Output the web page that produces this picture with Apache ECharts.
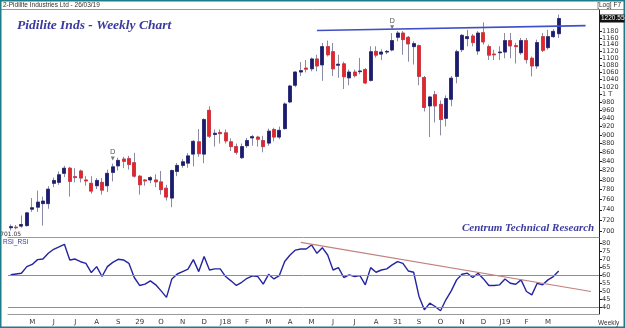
<!DOCTYPE html>
<html><head><meta charset="utf-8">
<script src="https://cdn.jsdelivr.net/npm/echarts@6/dist/echarts.min.js"></script>
<style>html,body{margin:0;padding:0;background:#fff}#c{width:625px;height:328px}</style>
</head><body><div id="c"></div>
<script>
// ---- data (weekly candles, Apr 2017 - Mar 2019) ----
const opens  = [706,707,709,710,741,745,752,752,793,795,814,825,807,819,800,793,788,795,788,816,830,845,846,837,808,800,800,800,796,783,763,818,831,836,856,884,856,960,901,906,905,884,873,848,875,893,895,887,881,913,895,915,981,1025,1061,1072,1070,1098,1081,1134,1119,1080,1084,1045,1061,1062,1068,1038,1120,1112,1118,1124,1162,1175,1162,1134,1137,1046,971,1000,975,940,988,1049,1125,1158,1166,1121,1176,1134,1112,1116,1118,1152,1137,1116,1152,1100,1078,1164,1131,1164,1173];
const closes = [708,706,712,734,744,755,757,781,799,811,825,797,805,804,798,777,799,779,814,828,842,840,833,808,790,798,805,796,780,765,820,831,839,852,885,857,937,897,904,903,886,873,860,873,887,896,890,873,909,895,911,976,1023,1061,1065,1069,1098,1078,1134,1110,1070,1083,1048,1061,1051,1064,1031,1119,1109,1118,1120,1152,1175,1155,1142,1143,1049,967,994,971,937,990,1044,1119,1168,1164,1146,1175,1148,1109,1110,1118,1152,1136,1134,1152,1096,1078,1146,1123,1164,1180,1220.55];
const highs  = [712,711,729,736,763,778,766,787,805,818,830,828,825,822,808,808,804,804,822,835,848,850,852,859,810,802,808,812,819,790,822,836,845,858,888,914,940,970,913,913,913,892,880,880,893,900,898,898,915,917,920,980,1026,1063,1089,1095,1102,1110,1145,1152,1145,1110,1090,1068,1068,1101,1072,1135,1135,1126,1124,1175,1181,1181,1166,1150,1140,1050,997,1010,985,998,1050,1125,1172,1185,1172,1181,1208,1140,1125,1135,1175,1175,1145,1160,1160,1105,1155,1175,1185,1187,1233];
const lows   = [701,703,706,708,736,736,710,742,785,790,806,766,795,795,788,772,781,770,775,797,820,825,822,805,770,788,793,785,770,758,745,808,826,826,829,850,836,893,873,880,880,863,855,845,870,875,873,860,875,885,890,913,978,1020,1050,1060,1063,1063,1037,1105,1050,1045,1015,1025,1046,1055,1028,1035,1102,1095,1112,1120,1150,1110,1090,1082,1025,957,895,930,899,920,970,1030,1118,1135,1135,1110,1140,1095,1095,1095,1100,1100,1085,1110,1085,1049,1070,1118,1125,1160,1160];
const rsi    = [60.5,61,61.5,65.6,67,70,70.4,74,76.5,78,79.6,69.8,70.4,68.7,67.7,61.9,65.6,59.4,65.6,68.3,70.2,69.8,67.7,58.8,53.8,54.6,56.7,54.2,50.4,46.3,57.9,61,62.5,64,70,62.5,72,63.5,64.2,64.2,59.4,56.7,53.8,55.8,58.3,59.8,59.4,54.6,60.8,57.9,60,68.8,72.9,76,76.7,76.7,79.2,74,77.5,72.9,63.5,65,58.8,60.4,59.4,60,54.2,65,62.1,63.5,64.2,66.7,68.8,67.7,62.9,62.1,46.9,38.5,42.7,40.6,37.9,44.8,50.4,57.3,60.8,61.5,58.8,61.5,57.9,53.8,53.8,54.2,57.9,55.2,54.6,57.3,50,47.9,55.2,54.2,57.3,59.4,62.9];
const monthLabels = ['M','J','J','A','S','29','O','N','D','J18','F','M','A','M','J','J','A','31','S','O','N','D','J19','F','M'];
const monthIdx    = [4,8,12,16,20,24,28,32,36,40,44,48,52,56,60,64,68,72,76,80,84,88,92,96,100];
const priceTicks  = [700,720,740,760,780,800,820,840,860,880,900,920,940,960,980,1000,1020,1040,1060,1080,1100,1120,1140,1160,1180,1200];
const rsiTicks    = [40,45,50,55,60,65,70,75,80];
const dMarks      = [[19,846],[71,1193]];
const resistance  = [[57,1183],[107,1198]];
const rsiTrend    = [[54,80.8],[108,50]];
const lastPrice   = 1220.55;
const lowPrice    = 701.05;
const N_SLOTS = 110;

const cats = Array.from({length:N_SLOTS},(_,i)=>String(i));
const labelMap = {}; monthIdx.forEach((k,j)=>{labelMap[k]=monthLabels[j];});
const wickData = opens.map((o,i)=>[o,closes[i],lows[i],highs[i]]);
const bodyData = opens.map((o,i)=>[o,closes[i],Math.min(o,closes[i]),Math.max(o,closes[i])]);

const NAVY='#1b1b6f', RED='#e3262b', WICK='#8a8aa4';
const axFont = {fontSize:6.5,color:'#333',fontFamily:'DejaVu Sans'};
const chart = echarts.init(document.getElementById('c'),null,{renderer:'canvas'});
chart.setOption({
  animation:false,
  backgroundColor:'#fff',
  title:[
    {text:'2-Pidilite Industries Ltd - 26/03/19',left:3,top:1.5,padding:0,textStyle:{fontSize:6.5,fontWeight:'normal',color:'#333',fontFamily:'Liberation Sans'}},
    {text:'[Log] F7',right:4,top:1.5,padding:0,textStyle:{fontSize:6.5,fontWeight:'normal',color:'#333',fontFamily:'Liberation Sans'}},
    {text:'Pidilite Inds - Weekly Chart',left:17,top:19,padding:0,textStyle:{fontSize:13.5,fontStyle:'italic',fontWeight:'bold',color:'#3b3b9e',fontFamily:'Liberation Serif'}},
    {text:'Centrum Technical Research',left:462,top:223,padding:0,textStyle:{fontSize:11,fontStyle:'italic',fontWeight:'bold',color:'#3b3b9e',fontFamily:'Liberation Serif'}},
    {text:'RSI_RSI',left:3,top:238.5,padding:0,textStyle:{fontSize:6.5,fontWeight:'normal',color:'#3a3aa0',fontFamily:'Liberation Sans'}},
    {text:'Weekly',left:598,top:319.5,padding:0,textStyle:{fontSize:6.5,fontWeight:'normal',color:'#333',fontFamily:'Liberation Sans'}}
  ],
  graphic:[
    {type:'line',shape:{x1:0,y1:9.5,x2:625,y2:9.5},style:{stroke:'#9a9a9a',lineWidth:1},silent:true},
    {type:'rect',shape:{x:0.75,y:0.75,width:623.5,height:326.5},style:{fill:'none',stroke:'#1f7d8a',lineWidth:1.5},silent:true}
  ],
  grid:[
    {left:8,right:26,top:10,height:227},
    {left:8,right:26,top:237,height:77}
  ],
  xAxis:[
    {type:'category',gridIndex:0,data:cats,boundaryGap:true,
     axisLine:{onZero:false,lineStyle:{color:'#9a9a9a'}},axisTick:{show:false},axisLabel:{show:false},splitLine:{show:false}},
    {type:'category',gridIndex:1,data:cats,boundaryGap:true,
     axisLine:{onZero:false,lineStyle:{color:'#9a9a9a'}},axisTick:{show:false},
     axisLabel:Object.assign({interval:(i)=>labelMap[i]!==undefined,formatter:(v,i)=>labelMap[i]||'',margin:5},axFont,{fontSize:7}),
     splitLine:{show:false}}
  ],
  yAxis:[
    {type:'log',gridIndex:0,position:'right',min:689.1,max:1248,
     axisLine:{show:true,lineStyle:{color:'#222'}},
     axisTick:{show:true,length:3,customValues:priceTicks,lineStyle:{color:'#222'}},
     axisLabel:Object.assign({customValues:priceTicks,margin:3,formatter:(v)=>{const r=Math.round(v);return r===1000?'1 T':String(r);}},axFont),
     splitLine:{show:false}},
    {type:'value',gridIndex:1,position:'right',min:35.9,max:84.2,
     axisLine:{show:true,lineStyle:{color:'#222'}},
     axisTick:{show:true,length:3,customValues:rsiTicks,lineStyle:{color:'#222'}},
     axisLabel:Object.assign({customValues:rsiTicks,margin:3},axFont),
     splitLine:{show:false}}
  ],
  series:[
    {type:'candlestick',name:'wick',xAxisIndex:0,yAxisIndex:0,data:wickData,barWidth:3.5,
     itemStyle:{color:WICK,color0:WICK,borderColor:WICK,borderColor0:WICK,borderWidth:1},
     markPoint:{symbol:'circle',symbolSize:0,data:[{coord:[0,lowPrice],label:{show:true,formatter:String(lowPrice),position:'bottom',distance:1,fontSize:6,color:'#333',fontFamily:'DejaVu Sans'}}]}},
    {type:'candlestick',name:'body',xAxisIndex:0,yAxisIndex:0,data:bodyData,barWidth:3.5,
     itemStyle:{color:NAVY,color0:RED,borderColor:NAVY,borderColor0:RED,borderWidth:0.6},
     markLine:{symbol:['none','none'],silent:true,animation:false,
       data:[
         [{coord:resistance[0]},{coord:resistance[1],lineStyle:{color:'#4150c8',width:1.6,type:'solid'},label:{show:false}}],
         {yAxis:lastPrice,lineStyle:{width:0,color:'rgba(0,0,0,0)'},
          label:{show:true,position:'end',distance:1,formatter:String(lastPrice),backgroundColor:'#111',color:'#fff',fontSize:6.5,padding:[1,0,0,1],fontFamily:'Liberation Sans'}}
       ]}},
    {type:'scatter',xAxisIndex:0,yAxisIndex:0,data:dMarks,symbol:'triangle',symbolRotate:180,symbolSize:[4,4],
     itemStyle:{color:'#555'},label:{show:true,formatter:'D',position:'top',distance:1,fontSize:7,color:'#333',fontFamily:'DejaVu Sans'}},
    {type:'line',xAxisIndex:1,yAxisIndex:1,data:rsi,symbol:'none',
     lineStyle:{color:'#2424a0',width:1.4},
     markLine:{symbol:['none','none'],silent:true,animation:false,label:{show:false},
       data:[
         {yAxis:60,lineStyle:{color:'#8f8f8f',width:1,type:'solid'}},
         {yAxis:40,lineStyle:{color:'#8f8f8f',width:1,type:'solid'}},
         [{coord:rsiTrend[0]},{coord:rsiTrend[1],lineStyle:{color:'#c28080',width:1.2,type:'solid'}}]
       ]}}
  ]
});
</script></body></html>
